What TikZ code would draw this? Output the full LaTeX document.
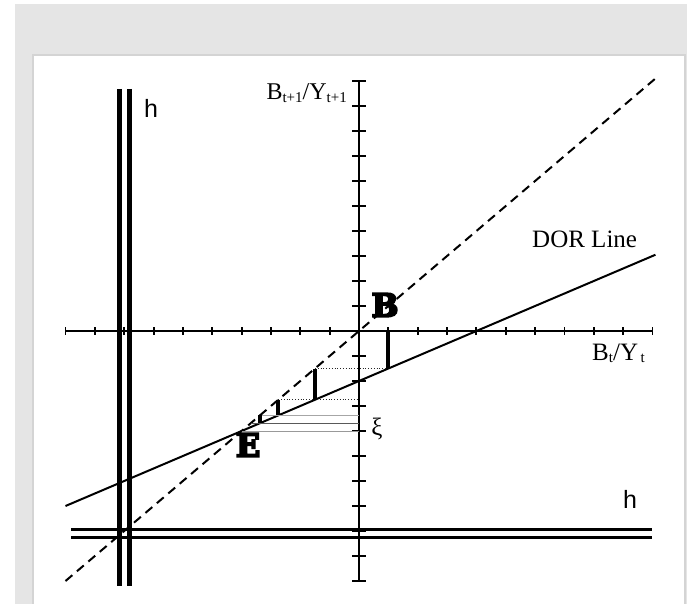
\documentclass[tikz,border=0pt]{standalone}
\usepackage{fontspec}
\setmainfont{Liberation Serif}
\newfontfamily\hsans{Liberation Sans}
\newfontfamily\heavy{DejaVu Serif Bold}[FakeBold=6]
\definecolor{bggray}{HTML}{E5E5E5}
\definecolor{panelborder}{HTML}{D4D4D4}
\newcommand{\sbt}[1]{\raisebox{-2.5pt}{\fontsize{15}{15}\selectfont #1}}
\newcommand{\sbb}[1]{\raisebox{-2.5pt}{\fontsize{15}{15}\selectfont #1}}
\begin{document}
\begin{tikzpicture}[x=1pt,y=-1pt,
  axisline/.style={line width=2.1pt},
  tickmark/.style={line width=1.9pt},
  curveline/.style={line width=2pt},
  dashline/.style={line width=2pt, dash pattern=on 9pt off 6pt},
  cobbar/.style={line width=4pt},
  dotline/.style={line width=0.8pt, dotted, black!85},
  grayline/.style={line width=1pt},
  hvert/.style={line width=5pt},
  hhor/.style={line width=3.8pt},
  lab/.style={inner sep=0pt},
  bigletter/.style={inner sep=0pt, font=\heavy\fontsize{32}{32}\selectfont}]
\useasboundingbox (0,0) rectangle (687,604);
% background
\fill[bggray] (15,4) rectangle (687,604);
\filldraw[fill=white, draw=panelborder, line width=2pt] (33,55) rectangle (685,610);

% data coordinate system
\begin{scope}[xshift=359pt, yshift=-331pt, x=29.35pt, y=25pt]
  \coordinate (O) at (0,0);
  \coordinate (xl) at (-10,0);
  \coordinate (xr) at (10,0);
  \coordinate (yb) at (0,-10);
  \coordinate (yt) at (0,10);
  % axes
  \draw[axisline] (xl) -- (xr);
  \draw[axisline] (yb) -- (yt);
  \foreach \i in {-10,...,10} {
    \draw[tickmark] (\i,0) ++(0,-3.6pt) -- ++(0,7.2pt);
    \draw[tickmark] (0,\i) ++(-7pt,0) -- ++(14pt,0);
  }
  % 45 degree line and DOR line
  \coordinate (d1) at (-10,-10);
  \coordinate (d2) at (10.1,10.1);
  \draw[dashline] (d1) -- (d2);
  \coordinate (r1) at (-10,-7);
  \coordinate (r2) at (10.1,3.05);
  \draw[curveline] (r1) -- (r2);
  % cobweb
  \coordinate (c0) at (1,0);
  \coordinate (c1) at (1,-1.5);
  \coordinate (e1) at (-1.5,-1.5);
  \coordinate (c2) at (-1.5,-2.75);
  \coordinate (e2) at (-2.75,-2.75);
  \coordinate (a2) at (0,-2.75);
  \coordinate (c3) at (-2.75,-3.375);
  \coordinate (e3) at (-3.375,-3.375);
  \coordinate (a3) at (0,-3.375);
  \coordinate (c4) at (-3.375,-3.6875);
  \coordinate (e4) at (-3.6875,-3.6875);
  \coordinate (a4) at (0,-3.6875);
  \coordinate (Ep) at (-4,-4);
  \coordinate (a5) at (0,-4);
  \draw[dotline] (e1) -- (c1);
  \draw[dotline] (e2) -- (a2);
  \draw[grayline, black!35] (e3) -- (a3);
  \draw[grayline, black!65] (e4) -- (a4);
  \draw[grayline, black!40] (Ep) -- (a5);
  \draw[cobbar] (c0) -- (c1);
  \draw[cobbar] (e1) -- (c2);
  \draw[cobbar] (e2) -- (c3);
  \draw[cobbar, line width=3.4pt] (e3) -- (c4);
\end{scope}

% h lines
\coordinate (hv1a) at (119.5,89);  \coordinate (hv1b) at (119.5,586);
\coordinate (hv2a) at (129.5,89);  \coordinate (hv2b) at (129.5,586);
\coordinate (hh1a) at (71,529.5);  \coordinate (hh1b) at (652,529.5);
\coordinate (hh2a) at (71,537.5);  \coordinate (hh2b) at (652,537.5);
\draw[hhor] (hh1a) -- (hh1b);
\draw[hhor] (hh2a) -- (hh2b);
\draw[hvert] (hv1a) -- (hv1b);
\draw[hvert] (hv2a) -- (hv2b);

% labels
\node[lab, anchor=base west, font=\hsans\fontsize{25}{25}\selectfont] (hlabA) at (144,118) {h};
\node[lab, anchor=base west, font=\hsans\fontsize{25}{25}\selectfont] (hlabB) at (623,508) {h};
\node[lab, anchor=base west, font=\fontsize{25}{25}\selectfont] (dor) at (532,247) {DOR Line};
\node[lab, anchor=base west, font=\fontsize{25}{25}\selectfont] (xlab) at (592,360) {B\sbb{t}/Y\sbb{\,t}};
\node[lab, anchor=base east, font=\fontsize{24}{24}\selectfont] (ylab) at (347,100) {B\sbt{t+1}/Y\sbt{t+1}};
\node[lab, font=\fontsize{25}{25}\selectfont] (xi) at (377,429) {ξ};
\node[bigletter] (Blab) at (385,305) {B};
\node[bigletter] (Elab) at (248,445) {E};
\end{tikzpicture}
\end{document}
